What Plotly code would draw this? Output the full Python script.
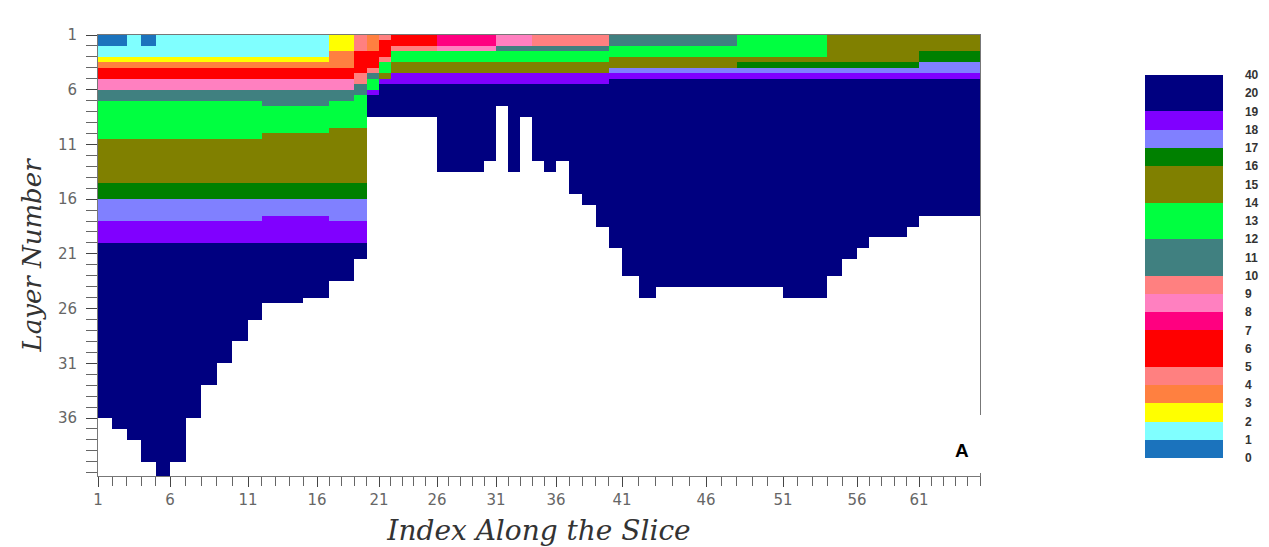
import plotly.graph_objects as go

# ---------------- data ----------------
# distance along the slice (km) of every index boundary 1..66
slice_km = [0.00, 1.44, 2.88, 4.32, 5.76, 7.20, 8.76, 10.32, 11.88, 13.44,
            15.00, 16.38, 17.76, 19.14, 20.52, 21.90, 23.14, 24.38, 25.62, 26.86,
            28.10, 29.26, 30.42, 31.58, 32.74, 33.90, 35.08, 36.26, 37.44, 38.62,
            39.80, 41.00, 42.20, 43.40, 44.60, 45.80, 47.12, 48.44, 49.76, 51.08,
            52.40, 54.08, 55.76, 57.44, 59.12, 60.80, 62.34, 63.88, 65.42, 66.96,
            68.50, 69.98, 71.46, 72.94, 74.42, 75.90, 77.14, 78.38, 79.62, 80.86,
            82.10, 83.32, 84.54, 85.76, 86.98, 88.20]
tick_indices = [1, 6, 11, 16, 21, 26, 31, 36, 41, 46, 51, 56, 61]

# deepest layer boundary reached by water in each index cell (1..65)
column_bottom = [36, 37, 38, 40, 41.5, 40, 36, 33, 31, 29, 27, 25.5, 25.5, 25.5, 25, 25,
                 23.5, 23.5, 21.5,
                 8.5, 8.5, 8.5, 8.5, 8.5, 8.5, 13.5, 13.5, 13.5, 13.5, 12.5, 7.5, 13.5,
                 8.5, 12.5, 13.5, 12.5, 15.5, 16.5, 18.5, 20.5, 23, 25,
                 24, 24, 24, 24, 24, 24, 24, 24, 25, 25, 25, 23, 21.5, 20.5,
                 19.5, 19.5, 19.5, 18.5, 17.5, 17.5, 17.5, 17.5, 17.5]

# vertical salinity profiles: (value, layer where band ends); last band reaches bottom
profiles = {
    "L0": [(0.5, 2), (1.5, 3), (2.5, 3.5), (3.5, 4), (6, 5), (8.5, 6), (11, 7), (13, 10.5),
           (15, 14.5), (16.5, 16), (17.5, 18), (18.5, 20), (30, None)],
    "L":  [(1.5, 3), (2.5, 3.5), (3.5, 4), (6, 5), (8.5, 6), (11, 7), (13, 10.5),
           (15, 14.5), (16.5, 16), (17.5, 18), (18.5, 20), (30, None)],
    "Lb": [(1.5, 3), (2.5, 3.5), (3.5, 4), (6, 5), (8.5, 6), (11, 7.5), (13, 10),
           (15, 14.5), (16.5, 16), (17.5, 17.5), (18.5, 20), (30, None)],
    "L2": [(2.5, 2.5), (3.5, 4), (6, 5), (8.5, 6), (11, 7), (13, 9.5), (15, 14.5),
           (16.5, 16), (17.5, 18), (18.5, 20), (30, None)],
    "L3": [(4.5, 2.5), (6, 4.5), (9.5, 5.5), (11, 6.5), (13, 9.5), (15, 14.5),
           (16.5, 16), (17.5, 18), (18.5, 20), (30, None)],
    "R20": [(3.5, 2.5), (6, 4), (9.5, 4.5), (11, 5), (13, 6), (18.5, 6.5), (30, None)],
    "R21": [(4.5, 1.5), (6, 3), (9.5, 3.5), (13, 4.5), (15, 5), (18.5, 5.5), (30, None)],
    "R22": [(6, 2), (9.5, 2.5), (13, 3.5), (15, 4.5), (18.5, 5.5), (30, None)],
    "R26": [(7.5, 2), (8.5, 2.5), (13, 3.5), (15, 4.5), (18.5, 5.5), (30, None)],
    "R31": [(8.5, 2), (11, 2.5), (13, 3.5), (15, 4.5), (18.5, 5.5), (30, None)],
    "R34": [(9.5, 2), (11, 2.5), (13, 3.5), (15, 4.5), (18.5, 5.5), (30, None)],
    "R40": [(11, 2), (13, 3), (15, 4), (17.5, 4.5), (18.5, 5), (30, None)],
    "R48": [(13, 3), (15, 3.5), (16.5, 4), (17.5, 4.5), (18.5, 5), (30, None)],
    "R54": [(15, 3.5), (16.5, 4), (17.5, 4.5), (18.5, 5), (30, None)],
    "R61": [(15, 2.5), (16.5, 3.5), (17.5, 4.5), (18.5, 5), (30, None)],
}
column_profile = (["L0"] * 2 + ["L"] + ["L0"] + ["L"] * 7 + ["Lb"] * 5 + ["L2"] * 2 +
                  ["L3"] + ["R20"] + ["R21"] + ["R22"] * 4 + ["R26"] * 5 + ["R31"] * 3 +
                  ["R34"] * 6 + ["R40"] * 8 + ["R48"] * 6 + ["R54"] * 7 + ["R61"] * 5)

layer_edges = [1 + 0.5 * k for k in range(82)]  # half-layer rows 1 .. 41.5

colorbar_labels = [str(v) for v in range(21)] + ["40"]
band_colors = ["#1B73BD", "#80FFFF", "#FFFF00", "#FF8040", "#FF8080", "#FF0000", "#FF0000",
               "#FF0080", "#FF80C0", "#FF8080", "#408080", "#408080", "#00FF40", "#00FF40",
               "#808000", "#808000", "#008000", "#8080FF", "#8000FF", "#000080", "#000080"]

# ---------------- build grid ----------------
def to_scale(v):
    return v if v <= 20 else 20 + (v - 20) / 20.0

z = []
for r in range(len(layer_edges) - 1):
    c = (layer_edges[r] + layer_edges[r + 1]) / 2
    row = []
    for j, name in enumerate(column_profile):
        if c > column_bottom[j]:
            row.append(None)
            continue
        val = None
        for v, b in profiles[name]:
            if b is None or c <= b:
                val = v
                break
        row.append(to_scale(val))
    z.append(row)

cs = []
n = len(band_colors)
for k, col in enumerate(band_colors):
    cs.append([k / n, col])
    cs.append([(k + 1) / n, col])

W, H = 1269, 547
L, R, T, B = 98, 289, 35, 71
PW, PH = W - L - R, H - T - B

fig = go.Figure()
fig.add_trace(go.Heatmap(
    x=slice_km, y=layer_edges, z=z, zmin=0, zmax=21, colorscale=cs,
    zsmooth=False, hoverongaps=False,
    colorbar=dict(
        x=(1145 - L) / PW, xanchor="left", xref="paper", xpad=0, ypad=0,
        y=(H - B - 266.5) / PH, yanchor="middle",
        len=383, lenmode="pixels", thickness=78, thicknessmode="pixels",
        outlinewidth=0,
        tickmode="array", tickvals=list(range(22)), ticktext=colorbar_labels,
        ticks="outside", ticklen=20, tickcolor="rgba(0,0,0,0)",
        tickfont=dict(family="Liberation Sans", size=12, color="#333", weight="bold"),
    ),
))

tick_pos = [slice_km[i - 1] for i in tick_indices]
fig.update_xaxes(
    range=[0, slice_km[-1]], tickmode="array", tickvals=tick_pos,
    ticktext=[str(i) for i in tick_indices],
    ticks="outside", ticklen=10, tickcolor="#444",
    minor=dict(tickmode="array", tickvals=slice_km, ticks="outside", ticklen=9, tickcolor="#666"),
    showline=True, linecolor="#777", mirror=True, showgrid=False, zeroline=False,
    tickfont=dict(family="DejaVu Sans", size=15, color="#666"),
    title=dict(text="Index Along the Slice", standoff=12,
               font=dict(family="DejaVu Serif", size=28, color="#333", style="italic")),
)
fig.update_yaxes(
    range=[41.3, 1], tickmode="array", tickvals=[1, 6, 11, 16, 21, 26, 31, 36],
    ticks="outside", ticklen=11, tickcolor="#444", ticklabelstandoff=6,
    minor=dict(tickmode="array", tickvals=list(range(1, 42)), ticks="outside", ticklen=11,
               tickcolor="#666"),
    showline=True, linecolor="#777", mirror=True, showgrid=False, zeroline=False,
    tickfont=dict(family="DejaVu Sans", size=15, color="#666"),
    title=dict(text="Layer Number", standoff=8,
               font=dict(family="DejaVu Serif", size=26, color="#333", style="italic")),
)

fig.add_shape(type="rect", xref="paper", yref="paper",
              x0=(940 - L) / PW, x1=(992 - L) / PW,
              y0=(H - B - 473) / PH, y1=(H - B - 415) / PH,
              fillcolor="white", line=dict(width=0), layer="above")
fig.add_annotation(text="<b>A</b>", xref="paper", yref="paper",
                   x=(962 - L) / PW, y=(H - B - 450) / PH, showarrow=False,
                   xanchor="center", yanchor="middle",
                   font=dict(family="Liberation Sans", size=19, color="black"))

fig.update_layout(
    width=W, height=H,
    margin=dict(l=L, r=R, t=T, b=B, autoexpand=False),
    paper_bgcolor="white", plot_bgcolor="white",
    showlegend=False,
)
fig.write_html("out.html", config={"displayModeBar": False},
               post_script="document.body.style.margin='0px';")
